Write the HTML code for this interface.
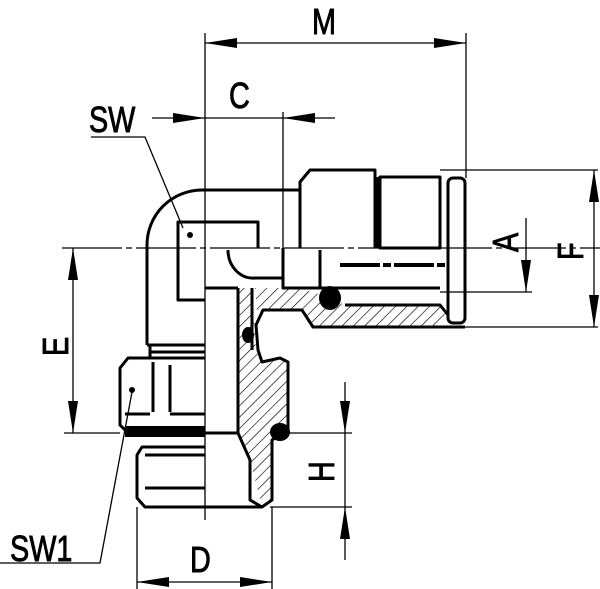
<!DOCTYPE html>
<html><head><style>html,body{margin:0;padding:0;background:#fff}svg{display:block}
text{font-family:"Liberation Sans",sans-serif;fill:#000;stroke:#000;stroke-width:0.9}</style></head><body>
<svg width="600" height="589" viewBox="0 0 600 589" xmlns="http://www.w3.org/2000/svg">
<defs>
<pattern id="h" width="8" height="8" patternUnits="userSpaceOnUse" patternTransform="rotate(45)"><line x1="0" y1="0" x2="0" y2="8" stroke="#000" stroke-width="1.3"/></pattern>
</defs>
<g stroke="#000" fill="none" stroke-width="1.3">
<line x1="205" y1="33" x2="205" y2="520"/>
<line x1="466" y1="33" x2="466" y2="178"/>
<line x1="283" y1="112" x2="283" y2="250"/>
<line x1="62" y1="248" x2="600" y2="248" stroke-dasharray="60 4 6 4"/>
<line x1="440" y1="170" x2="598" y2="170"/>
<line x1="440" y1="292" x2="532" y2="292"/>
<line x1="440" y1="327" x2="598" y2="327"/>
<line x1="64" y1="433" x2="120" y2="433"/>
<line x1="285" y1="433" x2="352" y2="433"/>
<line x1="270" y1="507" x2="352" y2="507"/>
<line x1="137" y1="507" x2="137" y2="589"/>
<line x1="272" y1="507" x2="272" y2="589"/>
<line x1="205" y1="43" x2="466" y2="43"/>
<line x1="152" y1="118" x2="335" y2="118"/>
<line x1="73" y1="248" x2="73" y2="433"/>
<line x1="345" y1="382" x2="345" y2="560"/>
<line x1="137" y1="582" x2="272" y2="582"/>
<line x1="594" y1="170" x2="594" y2="327"/>
<line x1="526" y1="218" x2="526" y2="292"/>
<polyline points="91,137 145,137 183,228"/>
<polyline points="0,563 100,563 132,392"/>
</g>
<g fill="#000">
<polygon points="205,43 237,38 237,48"/><polygon points="466,43 434,38 434,48"/>
<polygon points="205,118 173,113 173,123"/><polygon points="283,118 315,113 315,123"/>
<polygon points="73,248 68,280 78,280"/><polygon points="73,433 68,401 78,401"/>
<polygon points="345,433 340,401 350,401"/><polygon points="345,507 340,539 350,539"/>
<polygon points="137,582 169,577 169,587"/><polygon points="272,582 240,577 240,587"/>
<polygon points="594,170 589,202 599,202"/><polygon points="594,327 589,295 599,295"/>
<polygon points="526,292 521,260 531,260"/>
<circle cx="190" cy="235" r="3"/><circle cx="132" cy="390" r="3"/>
</g>
<!-- hatched sections -->
<g stroke="none" fill="url(#h)">
<path d="M238,288 L252,288 L256,350 L262,362 L288,360 L288,430 L272,440 L272,500 L262,507 L250,460 L238,433 Z"/>
<path d="M255,288 L300,288 L330,298 L345,305 L440,305 L448,320 L440,327 L313,327 L302,310 L263,310 L258,325 Z"/>
</g>
<g stroke="#000" fill="none" stroke-width="3" stroke-linejoin="round">
<path d="M147,345 L147,245 A55,55 0 0 1 202,190 L300,190"/>
<path d="M300,248 L300,182 L310,170 L375,170 L375,248"/>
<rect x="380" y="177" width="60" height="71"/>
<rect x="448" y="178" width="17" height="145" rx="5"/>
<path d="M205,300 L178,300 L178,222 L258,222 L258,248"/>
<path d="M228,250 A25,28 0 0 0 255,278 L283,278"/>
<path d="M283,248 L283,288 L440,288"/>
<line x1="320" y1="250" x2="320" y2="288"/>
<path d="M147,345 L205,345 M150,352 L205,352 M150,345 L150,358"/>
<path d="M205,288 L238,288"/>
<!-- hex nut -->
<path d="M205,358 L128,358 L120,368 L120,425 L128,433 L205,433"/>
<line x1="153" y1="362" x2="153" y2="412"/><line x1="170" y1="365" x2="170" y2="412"/>
<path d="M125,414 L150,414 M170,414 L205,414"/>
<!-- thread -->
<path d="M205,447 L142,447 L137,455 L137,498 L145,507 L205,507"/>
<line x1="145" y1="455" x2="205" y2="455"/><line x1="145" y1="488" x2="205" y2="488"/>
<!-- section outline -->
<path d="M238,288 L238,433 L250,460 L250,500 L262,507 L272,500 L272,440 L288,430 L288,362 L280,358 L262,362 L258,350 L256,325 L263,310 L302,310 L313,327 L465,327"/>
<path d="M252,288 L252,350"/>
<path d="M205,433 L238,433 M205,507 L262,507"/>
<path d="M345,305 L440,305 L448,315"/>
</g>
<g fill="#000">
<ellipse cx="330" cy="298" rx="11" ry="12"/>
<ellipse cx="248" cy="335" rx="6" ry="8"/>
<ellipse cx="280" cy="432" rx="10" ry="9"/>
<rect x="125" y="426" width="80" height="11"/>
<rect x="375" y="177" width="5" height="71"/>
</g>
<line x1="340" y1="265" x2="445" y2="265" stroke="#000" stroke-width="4" stroke-dasharray="40 3 8 3"/>
<text x="312" y="34" font-size="36" transform="translate(312 0) scale(0.8 1) translate(-312 0)">M</text>
<text x="229" y="108" font-size="36" transform="translate(229 0) scale(0.8 1) translate(-229 0)">C</text>
<text x="89" y="132" font-size="36" transform="translate(89 0) scale(0.8 1) translate(-89 0)">SW</text>
<text x="10" y="561" font-size="36" transform="translate(10 0) scale(0.8 1) translate(-10 0)">SW1</text>
<text x="190" y="572" font-size="36" transform="translate(190 0) scale(0.8 1) translate(-190 0)">D</text>
<text font-size="36" transform="translate(68,356) rotate(-90) scale(0.8 1)">E</text>
<text font-size="36" transform="translate(334,482) rotate(-90) scale(0.8 1)">H</text>
<text font-size="36" transform="translate(518,252) rotate(-90) scale(0.8 1)">A</text>
<text font-size="36" transform="translate(583,260) rotate(-90) scale(0.8 1)">F</text>
</svg>
</body></html>
